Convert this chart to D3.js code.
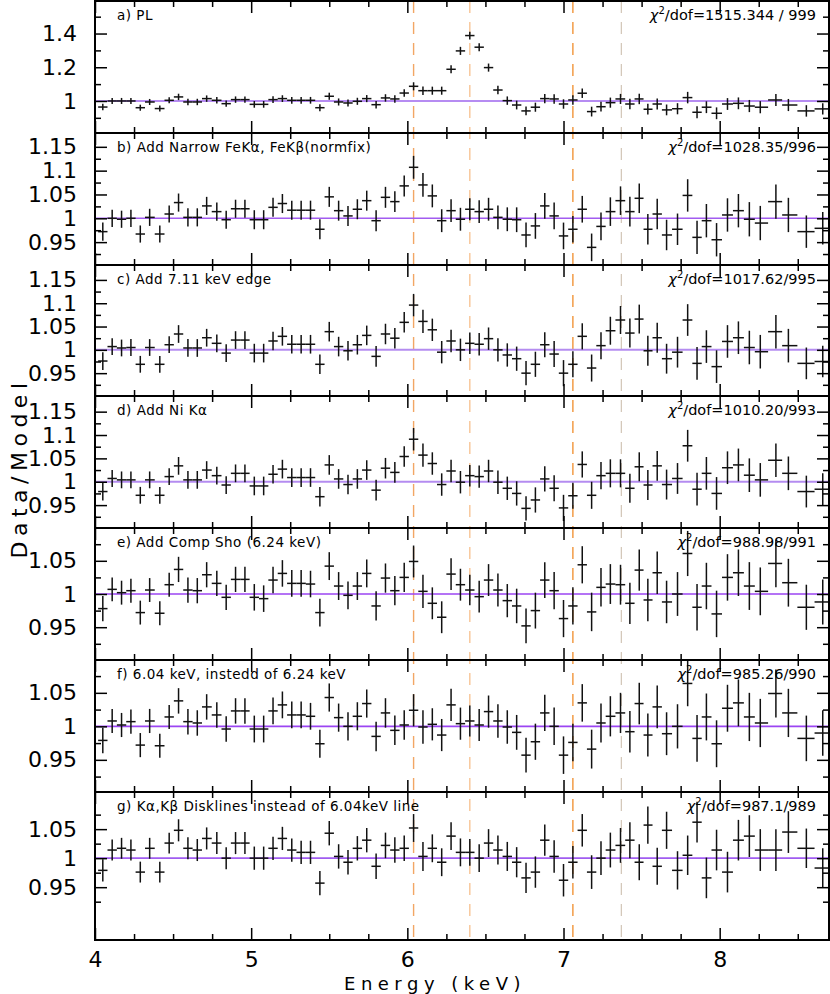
<!DOCTYPE html>
<html>
<head>
<meta charset="utf-8">
<script src="https://cdn.jsdelivr.net/npm/d3@7"></script>
<style>
  body { margin: 0; background: #fff; }
</style>
</head>
<body>
<div id="chart"></div>
<script>
// bin centres (keV), shared by every panel
var energy = [4.05, 4.11, 4.17, 4.23, 4.29, 4.35, 4.415, 4.475, 4.535, 4.595, 4.655, 4.715, 4.78, 4.84, 4.90, 4.96, 5.02, 5.08, 5.14, 5.20,
  5.26, 5.32, 5.38, 5.44, 5.50, 5.56, 5.62, 5.68, 5.74, 5.80, 5.86, 5.92, 5.98, 6.04,
  6.10, 6.16, 6.22, 6.28, 6.34, 6.40, 6.46, 6.52, 6.58, 6.64, 6.70, 6.76, 6.82, 6.88, 6.94, 7.00, 7.06, 7.12, 7.18, 7.24,
  7.30, 7.365, 7.425, 7.485, 7.54, 7.60, 7.66, 7.73, 7.795, 7.855, 7.915, 7.98, 8.05, 8.12, 8.19, 8.26, 8.36, 8.44, 8.555, 8.66];

// 1-sigma error on the ratio
var errBar = [0.019, 0.018, 0.018, 0.018, 0.018, 0.018, 0.018, 0.018, 0.019, 0.019, 0.019, 0.019, 0.019, 0.019, 0.019, 0.019, 0.020, 0.020, 0.020, 0.020,
  0.020, 0.020, 0.020, 0.021, 0.021, 0.021, 0.021, 0.021, 0.021, 0.022, 0.022, 0.022, 0.022, 0.024,
  0.025, 0.024, 0.024, 0.024, 0.024, 0.023, 0.024, 0.024, 0.025, 0.025, 0.026, 0.026, 0.027, 0.027, 0.028, 0.028, 0.028, 0.028, 0.029, 0.029,
  0.030, 0.030, 0.031, 0.031, 0.032, 0.032, 0.032, 0.033, 0.034, 0.035, 0.035, 0.035, 0.035, 0.035, 0.036, 0.036, 0.036, 0.036, 0.034, 0.034];

var ratioA = [0.964, 1.000, 1.000, 1.000, 0.960, 0.994, 0.955, 1.004, 1.024, 0.994, 0.994, 1.014, 1.004, 0.984, 1.008, 1.008, 0.980, 0.980, 1.008, 1.014,
  1.004, 1.004, 1.004, 0.960, 1.028, 0.994, 0.988, 0.998, 1.014, 0.978, 1.018, 1.012, 1.047, 1.087,
  1.061, 1.061, 1.061, 1.188, 1.297, 1.388, 1.319, 1.198, 1.065, 1.002, 0.976, 0.941, 0.963, 1.014, 1.012, 0.982, 1.006, 1.046, 0.937, 0.966,
  0.990, 1.012, 0.982, 1.012, 0.951, 0.982, 0.947, 0.954, 1.020, 0.933, 0.963, 0.927, 0.982, 0.986, 0.970, 0.963, 1.006, 0.976, 0.941, 0.953];

var ratioB = [0.972, 1.000, 0.998, 1.000, 0.967, 1.002, 0.967, 1.009, 1.033, 1.002, 1.002, 1.026, 1.014, 0.997, 1.020, 1.020, 0.997, 0.997, 1.023, 1.031,
  1.017, 1.017, 1.017, 0.977, 1.045, 1.016, 1.005, 1.019, 1.037, 0.995, 1.044, 1.035, 1.068, 1.107,
  1.070, 1.047, 0.995, 1.016, 0.998, 1.019, 1.014, 1.019, 1.002, 0.998, 0.997, 0.965, 0.984, 1.026, 1.005, 0.963, 0.977, 1.019, 0.939, 0.983,
  1.014, 1.037, 1.014, 1.042, 0.977, 1.009, 0.965, 0.977, 1.048, 0.960, 0.995, 0.955, 1.007, 1.016, 0.998, 0.990, 1.035, 1.007, 0.972, 0.979];

var ratioC = [0.976, 1.007, 1.004, 1.005, 0.969, 1.005, 0.969, 1.011, 1.034, 1.004, 1.004, 1.026, 1.014, 0.993, 1.021, 1.021, 0.993, 0.993, 1.019, 1.029,
  1.012, 1.012, 1.012, 0.969, 1.039, 1.007, 0.998, 1.011, 1.031, 0.986, 1.034, 1.025, 1.059, 1.096,
  1.061, 1.043, 0.995, 1.019, 1.000, 1.014, 1.012, 1.024, 1.000, 0.989, 0.981, 0.950, 0.969, 1.011, 0.991, 0.950, 0.969, 1.029, 0.961, 1.009,
  1.041, 1.064, 1.036, 1.066, 0.998, 1.026, 0.981, 0.995, 1.064, 0.971, 1.007, 0.964, 1.018, 1.026, 1.005, 0.996, 1.039, 1.009, 0.971, 0.975];

var ratioD = [0.979, 1.007, 1.004, 1.004, 0.971, 1.004, 0.971, 1.011, 1.034, 1.004, 1.004, 1.025, 1.013, 0.993, 1.018, 1.018, 0.991, 0.991, 1.016, 1.027,
  1.009, 1.009, 1.009, 0.968, 1.036, 1.006, 0.994, 1.006, 1.025, 0.982, 1.029, 1.020, 1.054, 1.091,
  1.057, 1.039, 0.994, 1.023, 0.999, 1.013, 1.011, 1.023, 0.999, 0.986, 0.975, 0.943, 0.961, 1.006, 0.986, 0.944, 0.970, 1.037, 0.971, 1.013,
  1.018, 1.018, 0.986, 1.032, 0.993, 1.034, 0.994, 1.007, 1.077, 0.984, 1.018, 0.975, 1.030, 1.036, 1.014, 1.004, 1.046, 1.018, 0.979, 0.984];

var ratioE = [0.978, 1.007, 1.002, 1.005, 0.972, 1.006, 0.971, 1.014, 1.037, 1.006, 1.005, 1.029, 1.016, 0.995, 1.022, 1.022, 0.995, 0.993, 1.021, 1.031,
  1.016, 1.016, 1.015, 0.972, 1.042, 1.012, 0.998, 1.012, 1.031, 0.982, 1.024, 1.005, 1.025, 1.049,
  1.004, 0.986, 0.965, 1.030, 1.014, 1.006, 0.996, 1.021, 1.006, 0.990, 0.982, 0.952, 0.975, 1.021, 1.005, 0.963, 0.982, 1.044, 0.973, 1.010,
  1.015, 1.014, 0.986, 1.036, 0.991, 1.032, 0.988, 1.000, 1.061, 0.980, 1.012, 0.970, 1.025, 1.032, 1.012, 1.004, 1.046, 1.017, 0.980, 0.988];

var ratioF = [0.979, 1.008, 1.002, 1.007, 0.972, 1.008, 0.971, 1.014, 1.038, 1.007, 1.005, 1.029, 1.017, 0.996, 1.023, 1.023, 0.996, 0.996, 1.023, 1.032,
  1.017, 1.017, 1.015, 0.974, 1.043, 1.013, 1.000, 1.015, 1.034, 0.985, 1.020, 0.994, 1.002, 1.024,
  0.999, 1.003, 0.987, 1.032, 1.004, 1.008, 1.002, 1.022, 1.008, 0.999, 0.991, 0.957, 0.977, 1.020, 1.000, 0.957, 0.976, 1.035, 0.966, 1.005,
  1.015, 1.020, 0.992, 1.034, 0.987, 1.029, 0.989, 1.000, 1.064, 0.982, 1.014, 0.974, 1.027, 1.035, 1.014, 1.005, 1.049, 1.020, 0.982, 0.990];

var ratioG = [0.979, 1.014, 1.017, 1.014, 0.976, 1.017, 0.976, 1.026, 1.048, 1.017, 1.014, 1.034, 1.026, 1.000, 1.026, 1.026, 1.000, 1.000, 1.017, 1.034,
  1.014, 1.010, 1.010, 0.957, 1.043, 1.003, 0.993, 1.017, 1.031, 0.986, 1.022, 1.014, 1.017, 1.052,
  1.003, 1.017, 0.993, 1.038, 1.010, 1.010, 1.000, 1.026, 1.014, 1.003, 0.993, 0.966, 0.976, 1.031, 1.003, 0.962, 0.993, 1.048, 0.976, 1.000,
  1.014, 1.022, 1.031, 0.993, 1.057, 0.986, 1.048, 0.979, 1.005, 1.062, 0.966, 1.014, 0.976, 1.031, 1.038, 1.014, 1.014, 1.045, 1.017, 0.983];

var panelNames = ["a) PL", "b) Add Narrow FeK\u03b1, FeK\u03b2(normfix)", "c) Add 7.11 keV edge", "d) Add Ni K\u03b1",
  "e) Add Comp Sho (6.24 keV)", "f) 6.04 keV, instedd of 6.24 keV", "g) K\u03b1,K\u03b2 Disklines instead of 6.04keV line"];
var chiValues = ["1515.344 / 999", "1028.35/996", "1017.62/995", "1010.20/993", "988.98/991", "985.26/990", "987.1/989"];

var xMajorTicks = [4, 5, 6, 7, 8];
var xMinorTicks = [4.25, 4.5, 4.75, 5.25, 5.5, 5.75, 6.25, 6.5, 6.75, 7.25, 7.5, 7.75, 8.25, 8.5];
var lineEnergies = [6.04, 6.40, 7.06, 7.37];
var lineColors = ["#f2a664", "#f8c596", "#f1953a", "#c9b9a8"];

var W = 830, H = 994, left = 95, right = 829, plotTop = 1, plotBottom = 940;
var font = "DejaVu Sans, Liberation Sans, sans-serif";

var panels = [
  { data: ratioA, top: 1,   bottom: 133, domain: [0.81, 1.593],   major: [1, 1.2, 1.4], minor: [0.9, 1.1, 1.3, 1.5], model: "#b68cf2", mw: 2 },
  { data: ratioB, top: 133, bottom: 265, domain: [0.902, 1.179],  major: [0.95, 1, 1.05, 1.1, 1.15], minor: [0.925, 0.975, 1.025, 1.075, 1.125], model: "#a25cf0", mw: 1.6 },
  { data: ratioC, top: 265, bottom: 396, domain: [0.901, 1.182],  major: [0.95, 1, 1.05, 1.1, 1.15], minor: [0.925, 0.975, 1.025, 1.075, 1.125], model: "#b48cf0", mw: 2 },
  { data: ratioD, top: 396, bottom: 528, domain: [0.901, 1.1835], major: [0.95, 1, 1.05, 1.1, 1.15], minor: [0.925, 0.975, 1.025, 1.075, 1.125], model: "#b48cf0", mw: 2 },
  { data: ratioE, top: 528, bottom: 660, domain: [0.9006, 1.0994], major: [0.95, 1, 1.05], minor: [0.925, 0.975, 1.025, 1.075], model: "#9b45f2", mw: 1.6 },
  { data: ratioF, top: 660, bottom: 792, domain: [0.902, 1.099],  major: [0.95, 1, 1.05], minor: [0.925, 0.975, 1.025, 1.075], model: "#9b45f2", mw: 1.6 },
  { data: ratioG, top: 792, bottom: 940, domain: [0.859, 1.114],  major: [0.95, 1, 1.05], minor: [0.925, 0.975, 1.025, 1.075], model: "#a05cf0", mw: 1.6 }
];

var svg = d3.select("#chart").append("svg")
    .attr("width", W)
    .attr("height", H)
    .style("display", "block");

svg.append("rect").attr("width", W).attr("height", H).attr("fill", "#fff");

var x = d3.scaleLinear().domain([4, 8.7]).range([left, right]);

// vertical line markers across all panels
svg.selectAll(".marker")
    .data(lineEnergies)
    .enter().append("line")
      .attr("x1", function(d) { return x(d); })
      .attr("x2", function(d) { return x(d); })
      .attr("y1", plotTop)
      .attr("y2", plotBottom)
      .attr("stroke", function(d, i) { return lineColors[i]; })
      .attr("stroke-width", function(d, i) { return i == 3 ? 1 : 1.4; })
      .attr("stroke-dasharray", "12,9");

function styleAxis(sel) {
  sel.select(".domain").remove();
  sel.selectAll(".tick line").attr("stroke", "#000").attr("stroke-width", 1.5);
}

panels.forEach(function(p, k) {
  var y = d3.scaleLinear().domain(p.domain).range([p.bottom, p.top]);
  var g = svg.append("g");

  g.append("clipPath").attr("id", "clip" + k)
    .append("rect").attr("x", left).attr("y", p.top).attr("width", right - left).attr("height", p.bottom - p.top);

  // model = 1
  g.append("line")
    .attr("x1", left).attr("x2", right)
    .attr("y1", y(1)).attr("y2", y(1))
    .attr("stroke", p.model).attr("stroke-width", p.mw);

  var pts = p.data.map(function(v, i) {
    var lo = i == 0 ? 4.02 : (energy[i - 1] + energy[i]) / 2;
    var hi = i == energy.length - 1 ? 8.76 : (energy[i] + energy[i + 1]) / 2;
    return { e: energy[i], v: v, err: errBar[i], lo: lo, hi: hi };
  });

  var bars = g.append("g").attr("clip-path", "url(#clip" + k + ")")
    .selectAll("g").data(pts).enter().append("g");

  bars.append("line")
    .attr("x1", function(d) { return x(d.e); })
    .attr("x2", function(d) { return x(d.e); })
    .attr("y1", function(d) { return y(d.v - d.err); })
    .attr("y2", function(d) { return y(d.v + d.err); })
    .attr("stroke", "#111").attr("stroke-width", 1.5);

  bars.append("line")
    .attr("x1", function(d) { return x(d.lo); })
    .attr("x2", function(d) { return x(d.hi); })
    .attr("y1", function(d) { return y(d.v); })
    .attr("y2", function(d) { return y(d.v); })
    .attr("stroke", "#111").attr("stroke-width", 1.5);

  // x ticks, top and bottom, pointing in
  var last = k == panels.length - 1;
  g.append("g").attr("transform", "translate(0," + p.bottom + ")")
    .call(d3.axisBottom(x).tickValues(xMajorTicks).tickSize(-12).tickPadding(11)
      .tickFormat(last ? function(d) { return d; } : ""))
    .call(styleAxis)
    .attr("font-size", 22).attr("font-family", font);
  g.append("g").attr("transform", "translate(0," + p.bottom + ")")
    .call(d3.axisBottom(x).tickValues(xMinorTicks).tickSize(-6).tickFormat(""))
    .call(styleAxis);
  g.append("g").attr("transform", "translate(0," + p.top + ")")
    .call(d3.axisTop(x).tickValues(xMajorTicks).tickSize(-12).tickFormat(""))
    .call(styleAxis);
  g.append("g").attr("transform", "translate(0," + p.top + ")")
    .call(d3.axisTop(x).tickValues(xMinorTicks).tickSize(-6).tickFormat(""))
    .call(styleAxis);

  // y ticks, left with labels, right without
  g.append("g").attr("transform", "translate(" + left + ",0)")
    .call(d3.axisLeft(y).tickValues(p.major).tickSize(-12).tickPadding(18).tickFormat(function(d) { return String(d); }))
    .call(styleAxis)
    .attr("font-size", 22).attr("font-family", font);
  g.append("g").attr("transform", "translate(" + left + ",0)")
    .call(d3.axisLeft(y).tickValues(p.minor).tickSize(-6).tickFormat(""))
    .call(styleAxis);
  g.append("g").attr("transform", "translate(" + right + ",0)")
    .call(d3.axisRight(y).tickValues(p.major).tickSize(-12).tickFormat(""))
    .call(styleAxis);
  g.append("g").attr("transform", "translate(" + right + ",0)")
    .call(d3.axisRight(y).tickValues(p.minor).tickSize(-6).tickFormat(""))
    .call(styleAxis);

  // frame
  g.append("rect")
    .attr("x", left).attr("y", p.top)
    .attr("width", right - left).attr("height", p.bottom - p.top)
    .attr("fill", "none").attr("stroke", "#000").attr("stroke-width", 2);

  // panel label
  g.append("text")
    .attr("x", 117).attr("y", p.top + 19)
    .attr("font-family", font).attr("font-size", 13.5)
    .attr("letter-spacing", 0.5)
    .text(panelNames[k]);

  // chi-square
  var chi = g.append("text")
    .attr("x", 816).attr("y", p.top + 19)
    .attr("text-anchor", "end")
    .attr("font-family", font).attr("font-size", 14.5);
  chi.append("tspan").attr("font-style", "italic").text("\u03c7");
  chi.append("tspan").attr("dy", -6).attr("font-size", 10).text("2");
  chi.append("tspan").attr("dy", 6).text("/dof=" + chiValues[k]);
});

svg.append("text")
  .attr("transform", "translate(27,468) rotate(-90)")
  .attr("text-anchor", "middle")
  .attr("font-family", font).attr("font-size", 22)
  .attr("letter-spacing", 5.5)
  .text("Data/Model");

svg.append("text")
  .attr("x", 435).attr("y", 990)
  .attr("text-anchor", "middle")
  .attr("font-family", font).attr("font-size", 18)
  .attr("letter-spacing", 5.5)
  .text("Energy (keV)");
</script>
</body>
</html>
